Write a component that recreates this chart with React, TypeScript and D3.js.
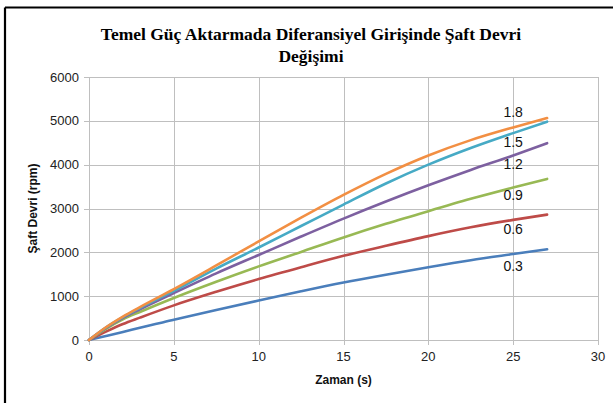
import React from 'react';
import * as d3 from 'd3';

const WIDTH = 613;
const HEIGHT = 403;
const MARGIN = { top: 77, right: 15, bottom: 63, left: 89 };
const GRAPH_WIDTH = 598 - MARGIN.left;
const GRAPH_HEIGHT = 340 - MARGIN.top;

const TITLE_LINES = ['Temel Güç Aktarmada Diferansiyel Girişinde Şaft Devri', 'Değişimi'];
const X_TITLE = 'Zaman (s)';
const Y_TITLE = 'Şaft Devri (rpm)';

const X_TICKS = [0, 5, 10, 15, 20, 25, 30];
const Y_TICKS = [0, 1000, 2000, 3000, 4000, 5000, 6000];

// time points (s)
const TIME = [0, 1, 2, 3, 5, 7.5, 10, 12.5, 15, 17.5, 20, 22.5, 25, 27];

const S03 = [0, 90, 182, 280, 460, 685, 900, 1110, 1310, 1490, 1660, 1820, 1960, 2070];
const S06 = [0, 190, 365, 510, 790, 1100, 1390, 1660, 1920, 2150, 2370, 2570, 2740, 2860];
const S09 = [0, 255, 470, 640, 960, 1330, 1680, 2010, 2340, 2650, 2940, 3220, 3480, 3675];
const S12 = [0, 275, 505, 700, 1070, 1520, 1940, 2360, 2770, 3160, 3530, 3880, 4210, 4490];
const S15 = [0, 285, 520, 730, 1120, 1630, 2110, 2600, 3090, 3570, 4000, 4380, 4720, 4980];
const S18 = [0, 290, 535, 750, 1160, 1700, 2250, 2790, 3310, 3790, 4210, 4560, 4850, 5065];

const SERIES_NAMES = ['0.3', '0.6', '0.9', '1.2', '1.5', '1.8'];
const SERIES_VALUES = [S03, S06, S09, S12, S15, S18];
const SERIES_COLORS = ['#4a7ebb', '#be4b48', '#98b954', '#7d60a0', '#46aac5', '#f28f43'];

// where the inline labels sit, in data units
const LABEL_X = [25, 25, 25, 25, 25, 25];
const LABEL_Y = [1690, 2540, 3310, 4015, 4505, 5190];

const FONT = '"Liberation Sans", Arial, sans-serif';

export default function App() {
    const xScale = d3.scaleLinear().domain([0, 30]).range([0, GRAPH_WIDTH]);
    const yScale = d3.scaleLinear().domain([0, 6000]).range([GRAPH_HEIGHT, 0]);
    const line = d3.line<[number, number]>()
        .x(d => xScale(d[0]))
        .y(d => yScale(d[1]))
        .curve(d3.curveMonotoneX);

    return (
        <svg width={WIDTH} height={HEIGHT} style={{ position: 'absolute', left: 0, top: 0, background: '#fff' }}>
            {/* chart border (only top and left visible) */}
            <line x1={5} y1={7.5} x2={WIDTH} y2={7.5} stroke="#000" strokeWidth={2.2} />
            <line x1={5} y1={7.5} x2={5} y2={HEIGHT} stroke="#000" strokeWidth={2.2} />

            {TITLE_LINES.map((t, i) => (
                <text key={t} x={311} y={40 + i * 22} textAnchor="middle"
                    fontFamily='"Liberation Serif", "Times New Roman", serif' fontWeight="bold" fontSize={17.5} fill="#000">
                    {t}
                </text>
            ))}

            <g transform={`translate(${MARGIN.left}, ${MARGIN.top})`}>
                {Y_TICKS.map(v => (
                    <g key={'y' + v}>
                        <line x1={-5} x2={GRAPH_WIDTH} y1={Math.round(yScale(v)) + 0.5} y2={Math.round(yScale(v)) + 0.5}
                            stroke="#bfbfbf" strokeWidth={1} />
                        <text x={-10} y={yScale(v)} dy="0.35em" textAnchor="end" fontFamily={FONT} fontSize={13} fill="#222">
                            {v}
                        </text>
                    </g>
                ))}
                {X_TICKS.map(v => (
                    <g key={'x' + v}>
                        <line y1={0} y2={GRAPH_HEIGHT + 5} x1={Math.round(xScale(v)) + 0.5} x2={Math.round(xScale(v)) + 0.5}
                            stroke="#bfbfbf" strokeWidth={1} />
                        <text x={xScale(v)} y={GRAPH_HEIGHT + 21} textAnchor="middle" fontFamily={FONT} fontSize={13} fill="#222">
                            {v}
                        </text>
                    </g>
                ))}

                {SERIES_VALUES.map((vals, i) => (
                    <path key={SERIES_NAMES[i]}
                        d={line(vals.map((v, j) => [TIME[j], v] as [number, number])) || ''}
                        fill="none" stroke={SERIES_COLORS[i]} strokeWidth={2.6} strokeLinecap="round" />
                ))}

                {SERIES_NAMES.map((n, i) => (
                    <text key={'l' + n} x={xScale(LABEL_X[i])} y={yScale(LABEL_Y[i])} dy="0.35em" textAnchor="middle"
                        fontFamily={FONT} fontSize={14} fill="#111">
                        {n}
                    </text>
                ))}

                <text x={GRAPH_WIDTH / 2} y={GRAPH_HEIGHT + 44} textAnchor="middle" fontFamily={FONT}
                    fontWeight="bold" fontSize={12} fill="#111">
                    {X_TITLE}
                </text>
                <text transform={`translate(${33 - MARGIN.left}, ${GRAPH_HEIGHT / 2}) rotate(-90)`} dy="0.35em"
                    textAnchor="middle" fontFamily={FONT} fontWeight="bold" fontSize={12} fill="#111">
                    {Y_TITLE}
                </text>
            </g>
        </svg>
    );
}
